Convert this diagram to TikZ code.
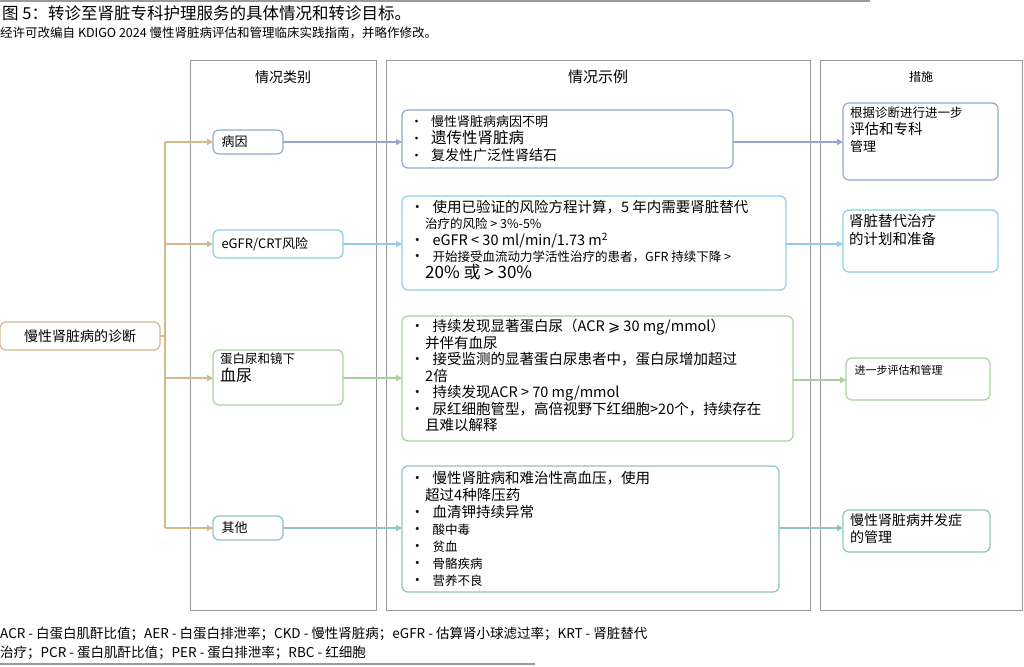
\documentclass[tikz,border=0pt]{standalone}
\usepackage{fontspec}
\setmainfont{Noto Sans CJK SC}
\newfontfamily\djv{DejaVu Sans}
\usetikzlibrary{arrows.meta}
\definecolor{tan}{HTML}{D4B98C}
\definecolor{cblue}{HTML}{95A6CF}
\definecolor{clblue}{HTML}{8FCDE8}
\definecolor{cgreen}{HTML}{AACF9E}
\definecolor{cteal}{HTML}{8FC4C2}
\definecolor{cgray}{HTML}{9A9A9A}
\newcommand{\fs}[2]{\fontsize{#1}{#2}\selectfont}
\newcommand{\bul}{•\hspace{8pt}}
\newcommand{\ind}{\hspace*{15pt}}
\begin{document}
\begin{tikzpicture}[x=1pt,y=-1pt,
  col/.style={draw=cgray,line width=0.8pt},
  bx/.style={draw=#1,line width=1.2pt,rounded corners=6pt,fill=white},
  arr/.style={draw=#1,line width=1.3pt,-{Triangle[length=6pt,width=6pt]}},
  txt/.style={anchor=north west,align=left,inner sep=0pt}]
\useasboundingbox (0,0) rectangle (1024,666);
\draw[cgray,line width=1.2pt] (0,1) -- (870,1);
\node[anchor=west,inner sep=0pt,font=\fs{16.5}{19}] (title) at (2,13) {图 5：转诊至肾脏专科护理服务的具体情况和转诊目标。};
\node[anchor=west,inner sep=0pt,font=\fs{12.5}{14}] (sub) at (0,33) {经许可改编自 KDIGO 2024 慢性肾脏病评估和管理临床实践指南，并略作修改。};
% columns
\draw[col] (190,60) rectangle (376,610);
\draw[col] (386,60) rectangle (810,610);
\draw[col] (820,60) rectangle (1022,610);
\node[font=\fs{14}{16}] (h1) at (283,77) {情况类别};
\node[font=\fs{15}{17}] (h2) at (598,77) {情况示例};
\node[font=\fs{12}{14}] (h3) at (921,77) {措施};
% diagnosis
\draw[bx=tan] (0,322) rectangle (160,350);
\node[font=\fs{14}{16}] (diag) at (80,336) {慢性肾脏病的诊断};
\coordinate (d) at (160,336);
\coordinate (t) at (165,336);
% categories
\draw[bx=cblue] (213,130) rectangle (283,154);
\node[anchor=west,font=\fs{13}{15}] (c1) at (218,142) {病因};
\draw[bx=clblue] (213,230) rectangle (343,258);
\node[anchor=west,font=\fs{13}{15}] (c2) at (218,244) {eGFR/CRT风险};
\draw[bx=cgreen] (213,350) rectangle (343,405);
\node[txt,font=\fs{12.5}{18}] (c3) at (220,353) {蛋白尿和镜下\\{\fs{16}{20}血尿}};
\draw[bx=cteal] (213,516) rectangle (283,540);
\node[anchor=west,font=\fs{13}{15}] (c4) at (218,528) {其他};
% trunk
\draw[tan,line width=1.3pt] (d) -- (t);
\draw[tan,line width=1.3pt] (165,142) -- (165,528);
\draw[arr=tan] (165,142) -- (213,142);
\draw[arr=tan] (165,244) -- (213,244);
\draw[arr=tan] (165,378) -- (213,378);
\draw[arr=tan] (165,528) -- (213,528);
% examples
\draw[bx=cblue] (402,110) rectangle (733,168);
\node[txt,font=\fs{13}{17}] (e1) at (410,115) {\bul{\fs{13}{17}慢性肾脏病病因不明}\\\bul{\fs{15.5}{17}遗传性肾脏病}\\\bul{\fs{14}{17}复发性广泛性肾结石}};
\draw[bx=clblue] (402,196) rectangle (786,290);
\node[txt,font=\fs{14.5}{16.5}] (e2) at (410,200) {\bul 使用已验证的风险方程计算，5 年内需要肾脏替代\\\ind{\fs{12.5}{16.5}治疗的风险 > 3\%-5\%}\\\bul eGFR < 30 ml/min/1.73 m\textsuperscript{2}\\\bul{\fs{12.5}{16.5}开始接受血流动力学活性治疗的患者，GFR 持续下降 >}\\\ind{\fs{17}{20}20\% 或 > 30\%}};
\draw[bx=cgreen] (402,316) rectangle (793,441);
\node[txt,font=\fs{14.5}{16.5}] (e3) at (410,319) {\bul 持续发现显著蛋白尿（ACR {\djv ⩾} 30 mg/mmol）\\\ind 并伴有血尿\\\bul 接受监测的显著蛋白尿患者中，蛋白尿增加超过\\\ind 2倍\\\bul 持续发现ACR > 70 mg/mmol\\\bul 尿红细胞管型，高倍视野下红细胞>20个，持续存在\\\ind 且难以解释};
\draw[bx=cteal] (402,466) rectangle (779,592);
\node[txt,font=\fs{14.5}{17}] (e4) at (410,471) {\bul 慢性肾脏病和难治性高血压，使用\\\ind 超过4种降压药\\\bul 血清钾持续异常\\\bul{\fs{12.5}{17}酸中毒}\\\bul{\fs{12.5}{17}贫血}\\\bul{\fs{12.5}{17}骨骼疾病}\\\bul{\fs{12.5}{17}营养不良}};
\draw[arr=cblue] (283,142) -- (402,142);
\draw[arr=clblue] (343,244) -- (402,244);
\draw[arr=cgreen] (343,378) -- (402,378);
\draw[arr=cteal] (283,528) -- (402,528);
% actions
\draw[bx=cblue] (843,103) rectangle (998,180);
\node[txt,font=\fs{14.5}{17}] (a1) at (850,107) {{\fs{12.5}{17}根据诊断进行进一步}\\评估和专科\\{\fs{13}{17}管理}};
\draw[bx=clblue] (843,210) rectangle (998,272);
\node[txt,font=\fs{14.5}{18}] (a2) at (849,214) {肾脏替代治疗\\的计划和准备};
\draw[bx=cgreen] (846,358) rectangle (990,400);
\node[anchor=west,font=\fs{11}{13}] (a3) at (851,370) {进一步评估和管理};
\draw[bx=cteal] (843,510) rectangle (990,552);
\node[txt,font=\fs{14}{17}] (a4) at (850,513) {慢性肾脏病并发症\\的管理};
\draw[arr=cblue] (733,142) -- (843,142);
\draw[arr=clblue] (786,244) -- (843,244);
\draw[arr=cgreen] (793,380) -- (846,380);
\draw[arr=cteal] (779,528) -- (843,528);
% footer
\node[txt,font=\fs{13.5}{19}] (foot) at (0,627) {ACR - 白蛋白肌酐比值；AER - 白蛋白排泄率；CKD - 慢性肾脏病；eGFR - 估算肾小球滤过率；KRT - 肾脏替代\\治疗；PCR - 蛋白肌酐比值；PER - 蛋白排泄率；RBC - 红细胞};
\draw[cgray,line width=1.2pt] (0,664) -- (535,664);
\end{tikzpicture}
\end{document}
